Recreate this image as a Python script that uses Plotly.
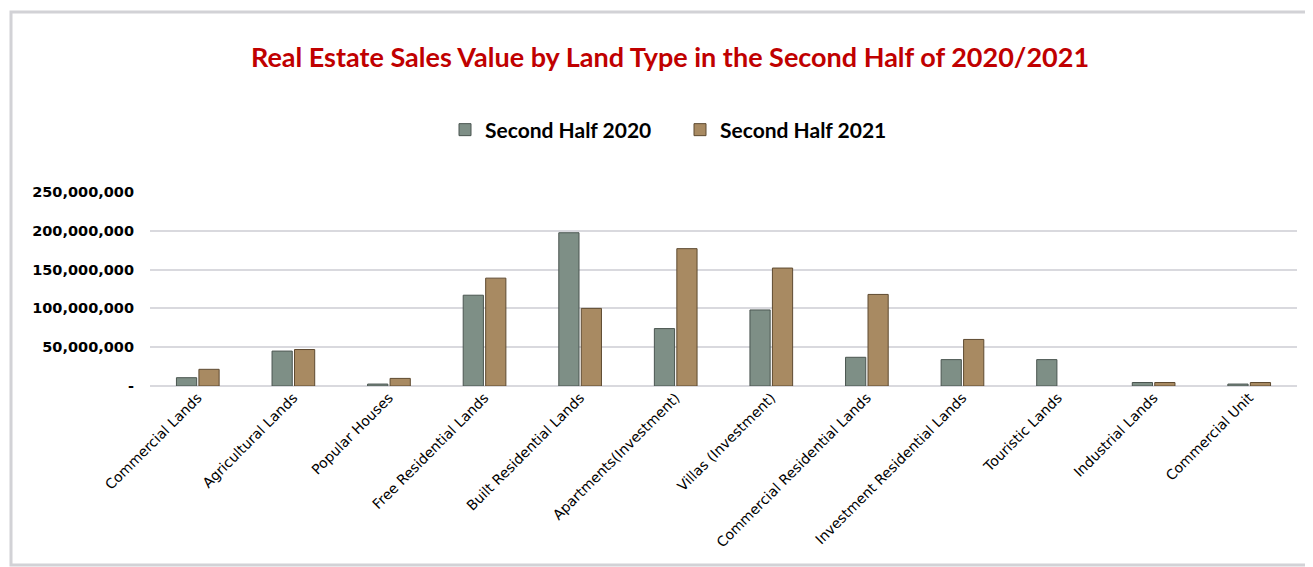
import plotly.graph_objects as go

categories = ["Commercial Lands", "Agricultural Lands", "Popular Houses", "Free Residential Lands",
              "Built Residential Lands", "Apartments(Investment)", "Villas (Investment)",
              "Commercial Residential Lands", "Investment Residential Lands", "Touristic Lands",
              "Industrial Lands", "Commercial Unit"]
h2020 = [10.7e6, 45e6, 2.5e6, 117e6, 197.5e6, 74e6, 98e6, 37e6, 34e6, 34e6, 4.5e6, 2.5e6]
h2021 = [21.5e6, 47e6, 9.8e6, 139e6, 100e6, 177e6, 152e6, 118e6, 60e6, None, 4.5e6, 4.5e6]
series_names = ["Second Half 2020", "Second Half 2021"]
tick_vals = [0, 50e6, 100e6, 150e6, 200e6, 250e6]
tick_text = ["-", "50,000,000", "100,000,000", "150,000,000", "200,000,000", "250,000,000"]

OFF = 8  # default body margin of the html page
W, H = 1313 - OFF, 567 - OFF
# plot area in page pixels
PX0, PX1, PY0, PY1 = 150, 1297, 192, 386
L, R, T, B = PX0 - OFF, W - (PX1 - OFF), PY0 - OFF, H - (PY1 - OFF)
pw, ph = PX1 - PX0, PY1 - PY0

def px_x(x):
    return (x - PX0) / pw

def px_y(y):
    return (PY1 - y) / ph

fig = go.Figure()
fig.add_trace(go.Bar(x=categories, y=h2020, name=series_names[0],
                     marker=dict(color="#7E8F86", line=dict(color="#4A5550", width=1))))
fig.add_trace(go.Bar(x=categories, y=h2021, name=series_names[1],
                     marker=dict(color="#A88A62", line=dict(color="#5E4A30", width=1))))

fig.update_layout(
    width=W, height=H,
    margin=dict(l=L, r=R, t=T, b=B),
    paper_bgcolor="white", plot_bgcolor="white",
    barmode="group", bargap=0.53, bargroupgap=0.1,
    title=dict(text="<b>Real Estate Sales Value by Land Type in the Second Half of 2020/2021</b>",
               font=dict(family="Lato", size=27, color="#C00000"),
               x=(670 - OFF) / W, xanchor="center", y=1 - (58 - OFF) / H, yanchor="middle"),
    legend=dict(orientation="h", x=px_x(680), xanchor="center", y=px_y(130), yanchor="middle",
                font=dict(family="Lato", size=21, color="black", weight="bold"),
                itemwidth=30, entrywidth=190),
    xaxis=dict(tickangle=-45, tickfont=dict(family="DejaVu Sans", size=14, color="black"),
               showgrid=False, showline=False, ticks=""),
    yaxis=dict(range=[0, 250e6], tickvals=tick_vals, ticktext=tick_text,
               tickfont=dict(family="DejaVu Sans", size=14.5, color="black", weight="bold"),
               showgrid=True, gridcolor="#D9D9DE", gridwidth=1.5,
               zeroline=True, zerolinecolor="#D9D9DE", zerolinewidth=1.5,
               ticks="", ticklabelstandoff=15, automargin=False),
    showlegend=True,
)

fig.add_shape(type="rect", xref="paper", yref="paper",
              x0=px_x(11), x1=px_x(1311), y0=px_y(565), y1=px_y(12),
              line=dict(color="#D2D2D6", width=3), layer="below")

fig.write_html("out.html")
